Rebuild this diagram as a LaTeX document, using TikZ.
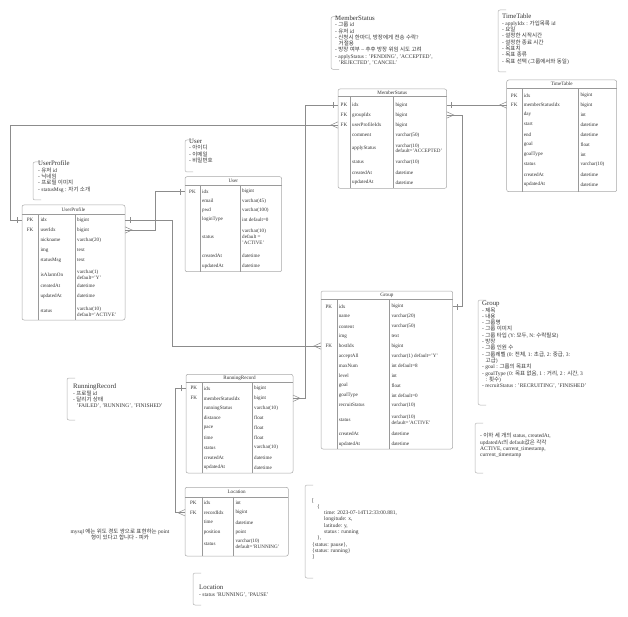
\documentclass[tikz,border=0pt]{standalone}
\usepackage{fontspec}
\setmainfont{Liberation Serif}
\newfontfamily\krfont{Noto Sans CJK KR}
\usetikzlibrary{fit}
\newcount\hgcnt
\newXeTeXintercharclass\hgclass
\hgcnt="AC00 \relax
\loop
 \XeTeXcharclass\hgcnt=\hgclass
 \ifnum\hgcnt<"D7A3
 \advance\hgcnt by 1
\repeat
\XeTeXinterchartokenstate=1
\XeTeXinterchartoks 0 \hgclass = {\krfont}
\XeTeXinterchartoks 4095 \hgclass = {\krfont}
\XeTeXinterchartoks \hgclass 0 = {\rmfamily}
\XeTeXinterchartoks \hgclass 4095 = {\rmfamily}
\definecolor{txt}{HTML}{333333}
\definecolor{frm}{HTML}{A8A8A8}
\definecolor{dvd}{HTML}{9A9A9A}
\definecolor{cnn}{HTML}{8C8C8C}
\definecolor{brk}{HTML}{B0B0B0}
\tikzset{
 cell/.style={inner sep=0pt, font=\fontsize{5.1}{5.6}\selectfont, text=txt, align=left},
 hcell/.style={inner sep=0pt, font=\fontsize{5.1}{6}\selectfont, text=txt},
 frame/.style={draw=frm, line width=0.5pt, rounded corners=2pt},
 divl/.style={draw=dvd, line width=0.4pt},
 conn/.style={draw=cnn, line width=0.5pt},
 bracket/.style={draw=brk, line width=0.5pt, rounded corners=2pt},
 note/.style={inner sep=0pt, anchor=north west, align=left, text=txt, font=\fontsize{5.5}{6.3}\selectfont},
}
\newcommand\settab[4]{\def\tL{#1}\def\tA{#2}\def\tB{#3}\def\tR{#4}}
\newcommand\tabframe[5]{%
  \node[fit={(\tL,#2)(\tR,#4)}, inner sep=0pt, frame] (#1) {};
  \node[hcell] (#1-title) at ({(\tL+\tR)/2},{(#2+#3)/2}) {#5};
  \draw[divl] (\tL,#3) -- (\tR,#3);
  \draw[divl] (\tA,#3) -- (\tA,#4);
  \draw[divl] (\tB,#3) -- (\tB,#4);
}
\newcommand\trow[5]{%
  \node[cell] (#1-k) at ({(\tL+\tA)/2},#2) {#3};
  \node[cell,anchor=west] (#1-n) at (\tA+2,#2) {#4};
  \node[cell,anchor=west] (#1-t) at (\tB+2,#2) {#5};
  \coordinate (#1-L) at (\tL,#2);
  \coordinate (#1-R) at (\tR,#2);
}
\newcommand\onemk[2]{\draw[conn] ([xshift=#2,yshift=-3pt]#1) -- ([xshift=#2,yshift=3pt]#1);}
\newcommand\manymk[2]{\draw[conn] ([yshift=3.2pt]#1) -- ([xshift=#2]#1) -- ([yshift=-3.2pt]#1);}
\newcommand\brk[3]{\draw[bracket] (#1+8,#2) -- (#1,#2) -- (#1,#3) -- (#1+8,#3);}
\newcommand\nt[1]{{\fontsize{6.8}{7}\selectfont #1}}
\begin{document}
\begin{tikzpicture}[x=1pt,y=-1pt]
\fill[white] (0,0) rectangle (628,617);
\useasboundingbox (0,0) rectangle (628,617);

% ---------- MemberStatus
\settab{338}{350}{393.3}{446.7}
\tabframe{ms}{89}{96.7}{188.3}{MemberStatus}
\trow{ms-idx}{105}{PK}{idx}{bigint}
\trow{ms-grp}{115}{FK}{groupIdx}{bigint}
\trow{ms-upi}{125}{FK}{userProfileIdx}{bigint}
\trow{ms-com}{135.5}{}{comment}{varchar(50)}
\trow{ms-aps}{148.3}{}{applyStatus}{varchar(10)\\default='ACCEPTED'}
\trow{ms-sts}{162.3}{}{status}{varchar(10)}
\trow{ms-cra}{172.5}{}{createdAt}{datetime}
\trow{ms-upa}{182.5}{}{updatedAt}{datetime}

% ---------- TimeTable
\settab{506.7}{521.7}{578.3}{616.7}
\tabframe{tt}{80}{88.3}{191.7}{TimeTable}
\trow{tt-idx}{95.5}{PK}{idx}{bigint}
\trow{tt-msi}{105}{FK}{memberStatusIdx}{bigint}
\trow{tt-day}{114.5}{}{day}{int}
\trow{tt-sta}{124.5}{}{start}{datetime}
\trow{tt-end}{134.5}{}{end}{datetime}
\trow{tt-gol}{144.5}{}{goal}{float}
\trow{tt-gty}{154.5}{}{goalType}{int}
\trow{tt-sts}{164.5}{}{status}{varchar(10)}
\trow{tt-cra}{174.5}{}{createdAt}{datetime}
\trow{tt-upa}{184.5}{}{updatedAt}{datetime}

% ---------- User
\settab{185}{200}{240}{281.7}
\tabframe{us}{176.7}{185}{271.7}{User}
\trow{us-idx}{191.7}{PK}{idx}{bigint}
\trow{us-eml}{201}{}{email}{varchar(45)}
\trow{us-pwd}{210.3}{}{pwd}{varchar(100)}
\trow{us-lgt}{219.5}{}{loginType}{int default=0}
\trow{us-sts}{236.7}{}{status}{varchar(10)\\default =\\'ACTIVE'}
\trow{us-cra}{256}{}{createdAt}{datetime}
\trow{us-upa}{266}{}{updatedAt}{datetime}

% ---------- UserProfile
\settab{22}{38.3}{75}{125}
\tabframe{up}{205}{214.3}{320}{UserProfile}
\trow{up-idx}{220}{PK}{idx}{bigint}
\trow{up-user}{230}{FK}{userIdx}{bigint}
\trow{up-nick}{240}{}{nickname}{varchar(20)}
\trow{up-img}{250}{}{img}{text}
\trow{up-msg}{260}{}{statusMsg}{text}
\trow{up-alm}{275}{}{isAlarmOn}{varchar(1)\\default='Y'}
\trow{up-cra}{286}{}{createdAt}{datetime}
\trow{up-upa}{296}{}{updatedAt}{datetime}
\trow{up-sts}{311.5}{}{status}{varchar(10)\\default='ACTIVE'}

% ---------- Group
\settab{321}{336.7}{389.3}{452.7}
\tabframe{gr}{291}{299}{449}{Group}
\trow{gr-idx}{306.7}{PK}{idx}{bigint}
\trow{gr-nam}{316.7}{}{name}{varchar(20)}
\trow{gr-con}{326.7}{}{content}{varchar(50)}
\trow{gr-img}{336.3}{}{img}{text}
\trow{gr-host}{346}{FK}{hostIdx}{bigint}
\trow{gr-acc}{356}{}{acceptAll}{varchar(1) default='Y'}
\trow{gr-max}{366}{}{maxNum}{int default=8}
\trow{gr-lvl}{375.5}{}{level}{int}
\trow{gr-gol}{385.3}{}{goal}{float}
\trow{gr-gty}{395.3}{}{goalType}{int default=0}
\trow{gr-rcs}{405.3}{}{recruitStatus}{varchar(10)}
\trow{gr-sts}{420}{}{status}{varchar(10)\\default='ACTIVE'}
\trow{gr-cra}{434}{}{createdAt}{datetime}
\trow{gr-upa}{444}{}{updatedAt}{datetime}

% ---------- RunningRecord
\settab{186}{201.7}{252}{293}
\tabframe{rr}{374.3}{382.3}{473}{RunningRecord}
\trow{rr-idx}{388.3}{PK}{idx}{bigint}
\trow{rr-msi}{398.3}{FK}{memberStatusIdx}{bigint}
\trow{rr-rst}{408.3}{}{runningStatus}{varchar(10)}
\trow{rr-dst}{418}{}{distance}{float}
\trow{rr-pac}{428}{}{pace}{float}
\trow{rr-tim}{437.7}{}{time}{float}
\trow{rr-sts}{447.7}{}{status}{varchar(10)}
\trow{rr-cra}{457.5}{}{createdAt}{datetime}
\trow{rr-upa}{467.3}{}{updatedAt}{datetime}

% ---------- Location
\settab{185}{201.7}{233.3}{288.3}
\tabframe{lo}{487.3}{496.7}{556}{Location}
\trow{lo-idx}{502.7}{PK}{idx}{int}
\trow{lo-rec}{512.7}{FK}{recordIdx}{bigint}
\trow{lo-tim}{522.3}{}{time}{datetime}
\trow{lo-pos}{532.3}{}{position}{point}
\trow{lo-sts}{544}{}{status}{varchar(10)\\default='RUNNING'}

% ---------- connectors
\draw[conn] (up-idx-L) -- ++(-12,0) |- (ms-upi-L);
\onemk{up-idx-L}{-5pt} \manymk{ms-upi-L}{-7pt}
\draw[conn] (up-idx-R) -- ++(47,0) |- (gr-host-L);
\onemk{up-idx-R}{5pt} \manymk{gr-host-L}{-7pt}
\draw[conn] (up-user-R) -- ++(30,0) |- (us-idx-L);
\manymk{up-user-R}{7pt} \onemk{us-idx-L}{-5pt}
\draw[conn] (ms-grp-R) -- ++(16,0) |- (gr-idx-R);
\manymk{ms-grp-R}{7pt} \onemk{gr-idx-R}{5pt}
\draw[conn] (ms-idx-R) -- (tt-msi-L);
\onemk{ms-idx-R}{5pt} \manymk{tt-msi-L}{-7pt}
\draw[conn] (rr-msi-R) -- ++(12,0) |- (ms-idx-L);
\manymk{rr-msi-R}{7pt} \onemk{ms-idx-L}{-5pt}
\draw[conn] (rr-idx-L) -- ++(-11,0) |- (lo-rec-L);
\onemk{rr-idx-L}{-5pt} \manymk{lo-rec-L}{-7pt}

% ---------- notes
\brk{331}{16.7}{69.3}
\node[note] (n-ms) at (335,15.5) {\nt{MemberStatus}\\- 그룹 id\\- 유저 id\\- 신청시 한마디, 방장에게 전송 수락?\\\hspace*{3.5pt}거절용\\- 방장 여부 -- 추후 방장 위임 시도 고려\\- applyStatus : 'PENDING', 'ACCEPTED',\\\hspace*{3.5pt}'REJECTED', 'CANCEL'};

\brk{498}{10}{72}
\node[note] (n-tt) at (502,14) {\nt{TimeTable}\\- applyIdx : 가입목록 id\\- 요일\\- 설정한 시작시간\\- 설정한 종료 시간\\- 목표치\\- 목표 종류\\- 목표 선택 (그룹에서와 동일)};

\brk{33}{162}{200}
\node[note] (n-up) at (38,161) {\nt{UserProfile}\\- 유저 id\\- 닉네임\\- 프로필 이미지\\- statusMsg : 자기 소개};

\brk{185}{140}{172}
\node[note] (n-us) at (189,139) {\nt{User}\\- 아이디\\- 이메일\\- 비밀번호};

\brk{478}{300}{405}
\node[note] (n-gr) at (482,301) {\nt{Group}\\- 제목\\- 내용\\- 그룹명\\- 그룹 이미지\\- 그룹 타입 (Y: 모두, N: 수락필요)\\- 방장\\- 그룹 인원 수\\- 그룹레벨 (0: 전체, 1: 초급, 2: 중급, 3:\\\hspace*{3.5pt}고급)\\- goal : 그룹의 목표치\\- goalType (0: 목표 없음, 1 : 거리, 2 : 시간, 3\\\hspace*{3.5pt}: 횟수)\\- recruitStatus : 'RECRUITING', 'FINISHED'};

\brk{475}{423}{473}
\node[note] (n-cm) at (480,433) {- 이하 세 개의 status, createdAt,\\updatedAt의 default값은 각각\\ACTIVE, current\_timestamp,\\current\_timestamp};

\brk{67}{378}{420}
\node[note] (n-rr) at (73,384) {\nt{RunningRecord}\\- 프로필 id\\- 달리기 상태\\\hspace*{3.5pt}'FAILED', 'RUNNING', 'FINISHED'};

\brk{193}{573}{605}
\node[note] (n-lo) at (199,585) {\nt{Location}\\- status 'RUNNING', 'PAUSE'};

\brk{305}{485}{578}
\node[note] (n-js) at (312,498) {[\\\hspace*{5pt}\{\\\hspace*{12pt}time: 2023-07-14T12:33:00.881,\\\hspace*{12pt}longitude: x,\\\hspace*{12pt}latitude: y,\\\hspace*{12pt}status : running\\\hspace*{5pt}\},\\\{status: pause\},\\\{status: running\}\\]};

\node[note, anchor=center, align=center] (n-my) at (120,534.5) {mysql 에는 위도 경도 쌍으로 표현하는 point\\형이 있다고 합니다 - 피카};
\end{tikzpicture}
\end{document}
